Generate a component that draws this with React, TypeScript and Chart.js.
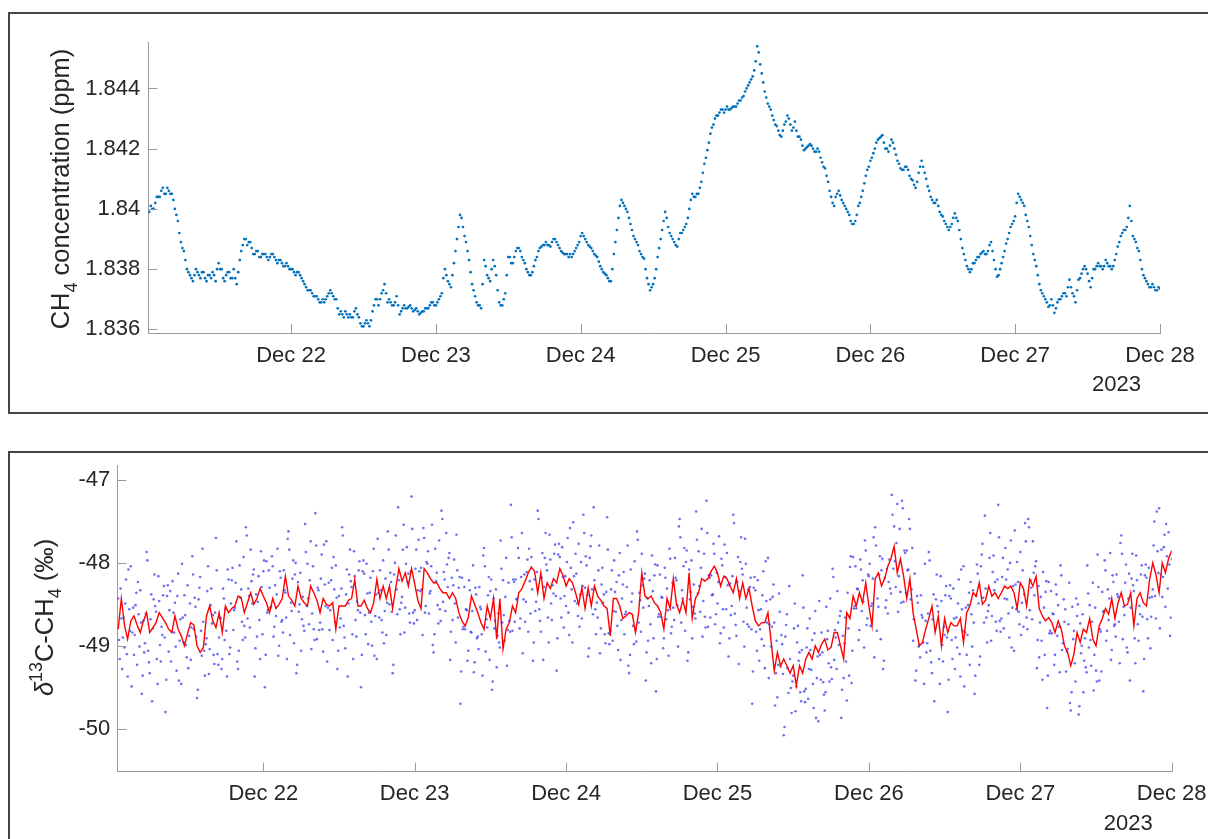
import React, { useEffect, useRef } from 'react';
import { Chart, registerables } from 'chart.js';

Chart.register(...registerables);

const FONT = '"Liberation Sans", Arial, Helvetica, sans-serif';
const TEXT = '#262626';
const AXIS = '#9a9a9a';

// x axis: hours since Dec 21 00:00 (2023)
const dayTickHours = [24, 48, 72, 96, 120, 144, 168];
const dayTickLabels = ['Dec 22', 'Dec 23', 'Dec 24', 'Dec 25', 'Dec 26', 'Dec 27', 'Dec 28'];
const yearLabel = '2023';

const ch4Ticks = [1.836, 1.838, 1.84, 1.842, 1.844];
const ch4TickLabels = ['1.836', '1.838', '1.84', '1.842', '1.844'];
const d13Ticks = [-50, -49, -48, -47];
const d13TickLabels = ['-50', '-49', '-48', '-47'];

// CH4 concentration (ppm), every 0.5 h starting at hour 0.5
const ch4StartHour = 0.5;
const ch4StepHour = 0.5;
const ch4Values = [
  1.8399, 1.8400, 1.8402, 1.8404, 1.8406, 1.8405, 1.8407, 1.8405,
  1.8403, 1.8398, 1.8392, 1.8387, 1.8383, 1.8379, 1.8377, 1.8378,
  1.8379, 1.8377, 1.8379, 1.8376, 1.8378, 1.8379, 1.8376, 1.8382,
  1.8380, 1.8376, 1.8379, 1.8377, 1.8380, 1.8375, 1.8383, 1.8388,
  1.8390, 1.8389, 1.8387, 1.8385, 1.8386, 1.8384, 1.8385, 1.8384,
  1.8384, 1.8385, 1.8383, 1.8383, 1.8382, 1.8381, 1.8381, 1.8380,
  1.8379, 1.8379, 1.8378, 1.8376, 1.8374, 1.8373, 1.8372, 1.8371,
  1.8370, 1.8369, 1.8369, 1.8371, 1.8373, 1.8371, 1.8370, 1.8365,
  1.8365, 1.8366, 1.8364, 1.8364, 1.8366, 1.8365, 1.8362, 1.8361,
  1.8363, 1.8361, 1.8366, 1.8370, 1.8368, 1.8372, 1.8375, 1.8369,
  1.8369, 1.8368, 1.8371, 1.8365, 1.8367, 1.8367, 1.83675, 1.8367,
  1.83665, 1.8366, 1.83655, 1.8366, 1.8367, 1.8368, 1.8369, 1.8368,
  1.8370, 1.8372, 1.8380, 1.8376, 1.8374, 1.8382, 1.8390, 1.8398,
  1.8394, 1.8389, 1.8383, 1.8375, 1.8371, 1.8368, 1.8367, 1.8383,
  1.8378, 1.8376, 1.8383, 1.8378, 1.8369, 1.8368, 1.8372, 1.8384,
  1.8382, 1.8384, 1.8387, 1.8386, 1.8383, 1.8380, 1.8378, 1.8379,
  1.8383, 1.8386, 1.83875, 1.8388, 1.8388, 1.83875, 1.8390, 1.8389,
  1.8387, 1.83855, 1.8385, 1.8384, 1.8384, 1.8386, 1.8388, 1.8391,
  1.8391, 1.8389, 1.83875, 1.8386, 1.83845, 1.83825, 1.8380, 1.83785,
  1.8377, 1.8376, 1.8385, 1.8393, 1.8401, 1.8402, 1.8400, 1.8397,
  1.8393, 1.8390, 1.8388, 1.8385, 1.83835, 1.8377, 1.8373, 1.8375,
  1.8380, 1.8387, 1.8393, 1.8399, 1.8394, 1.8391, 1.8389, 1.83875,
  1.8392, 1.8393, 1.8395, 1.8400, 1.8405, 1.8404, 1.8405, 1.8409,
  1.8415, 1.84195, 1.8425, 1.8428, 1.8431, 1.8432, 1.8433, 1.8433,
  1.8433, 1.84335, 1.8434, 1.8435, 1.8436, 1.84375, 1.8440, 1.8442,
  1.8444, 1.8449, 1.8452, 1.8445, 1.8439, 1.8435, 1.8433, 1.84295,
  1.84275, 1.84245, 1.8426, 1.8429, 1.8430, 1.8426, 1.8429, 1.8424,
  1.8423, 1.84195, 1.84205, 1.84215, 1.8420, 1.8419, 1.8419, 1.84155,
  1.84135, 1.8409, 1.8404, 1.8401, 1.8405, 1.84045, 1.8402, 1.8400,
  1.8398, 1.8395, 1.8396, 1.8401, 1.8404, 1.84085, 1.8413, 1.8416,
  1.84185, 1.8422, 1.84235, 1.84245, 1.8420, 1.8419, 1.8423, 1.8420,
  1.8416, 1.84135, 1.8413, 1.8414, 1.8411, 1.84095, 1.8407, 1.8412,
  1.8416, 1.8412, 1.84075, 1.8404, 1.8402, 1.8403, 1.8399, 1.83975,
  1.8395, 1.8393, 1.8395, 1.83985, 1.8396, 1.8390, 1.8385, 1.8381,
  1.8379, 1.8382, 1.8383, 1.8384, 1.83855, 1.8385, 1.8386, 1.8389,
  1.8383, 1.83775, 1.8380, 1.8384, 1.83885, 1.8392, 1.8395, 1.83975,
  1.8405, 1.8403, 1.8401, 1.8396, 1.8391, 1.8385, 1.8381, 1.8375,
  1.8372, 1.8370, 1.83675, 1.8370, 1.83655, 1.8369, 1.8370, 1.8372,
  1.8371, 1.83765, 1.8372, 1.8369, 1.83765, 1.83785, 1.8381, 1.83785,
  1.8374, 1.8380, 1.8381, 1.8381, 1.8380, 1.8383, 1.8381, 1.8380,
  1.8383, 1.83875, 1.8391, 1.8393, 1.8394, 1.8401, 1.8391, 1.8389,
  1.8386, 1.8380, 1.8377, 1.8375, 1.8374, 1.8374, 1.8373, 1.83735,
];

// CH4 concentration (ppm), second set of readings, every 0.5 h starting at hour 0.75
const ch4BStartHour = 0.75;
const ch4BStepHour = 0.5;
const ch4BValues = [
  1.8401, 1.8400, 1.8404, 1.8404, 1.8407, 1.8405, 1.8406, 1.8405,
  1.8400, 1.8396, 1.8389, 1.8386, 1.8380, 1.8378, 1.8376, 1.8380,
  1.8378, 1.8379, 1.8377, 1.8378, 1.8377, 1.8378, 1.8380, 1.8380,
  1.8377, 1.8378, 1.8379, 1.8377, 1.8377, 1.8379, 1.8386, 1.8390,
  1.8388, 1.8389, 1.8385, 1.8386, 1.8384, 1.8385, 1.8385, 1.8383,
  1.8385, 1.8384, 1.8382, 1.8383, 1.8381, 1.8382, 1.8380, 1.8380,
  1.8378, 1.8379, 1.8377, 1.8375, 1.8373, 1.8373, 1.8371, 1.8371,
  1.8369, 1.8370, 1.8370, 1.8372, 1.8372, 1.8370, 1.8367, 1.8366,
  1.8364, 1.8365, 1.8365, 1.8364, 1.8367, 1.8364, 1.8361, 1.8362,
  1.8362, 1.8363, 1.8368, 1.8370, 1.8370, 1.8373, 1.8372, 1.8370,
  1.8368, 1.8369, 1.8368, 1.8366, 1.8368, 1.8367, 1.8368, 1.8366,
  1.8367, 1.8365, 1.8366, 1.8367, 1.8367, 1.8369, 1.8368, 1.8369,
  1.8371, 1.8377, 1.8378, 1.8375, 1.8378, 1.8386, 1.8394, 1.8397,
  1.8391, 1.8386, 1.8379, 1.8373, 1.8369, 1.8368, 1.8375, 1.8381,
  1.8377, 1.8380, 1.8381, 1.8373, 1.8368, 1.8370, 1.8378, 1.8384,
  1.8382, 1.8386, 1.8387, 1.8384, 1.8382, 1.8379, 1.8378, 1.8381,
  1.8384, 1.8387, 1.8388, 1.8389, 1.8388, 1.8389, 1.8390, 1.8388,
  1.8386, 1.8385, 1.8385, 1.8385, 1.8385, 1.8387, 1.8389, 1.8392,
  1.8390, 1.8388, 1.8387, 1.8385, 1.8384, 1.8381, 1.8379, 1.8378,
  1.8376, 1.8380, 1.8389, 1.8397, 1.8403, 1.8401, 1.8399, 1.8395,
  1.8391, 1.8389, 1.8386, 1.8384, 1.8380, 1.8375, 1.8374, 1.8377,
  1.8384, 1.8390, 1.8396, 1.8397, 1.8392, 1.8390, 1.8388, 1.8390,
  1.8392, 1.8394, 1.8397, 1.8403, 1.8404, 1.8405, 1.8407, 1.8412,
  1.8417, 1.8422, 1.8427, 1.8430, 1.8431, 1.8433, 1.8432, 1.8434,
  1.8433, 1.8434, 1.8434, 1.8436, 1.8437, 1.8439, 1.8441, 1.8443,
  1.8446, 1.8454, 1.8448, 1.8442, 1.8437, 1.8434, 1.8431, 1.8428,
  1.8426, 1.8424, 1.8428, 1.8431, 1.8428, 1.8427, 1.8426, 1.8424,
  1.8421, 1.8420, 1.8421, 1.8421, 1.8419, 1.8420, 1.8417, 1.8414,
  1.8411, 1.8406, 1.8402, 1.8404, 1.8406, 1.8403, 1.8401, 1.8399,
  1.8396, 1.8395, 1.8398, 1.8402, 1.8406, 1.8411, 1.8414, 1.8417,
  1.8420, 1.8423, 1.8424, 1.8422, 1.8420, 1.8421, 1.8422, 1.8418,
  1.8415, 1.8413, 1.8414, 1.8413, 1.8410, 1.8408, 1.8409, 1.8414,
  1.8414, 1.8410, 1.8406, 1.8403, 1.8402, 1.8401, 1.8398, 1.8396,
  1.8394, 1.8394, 1.8397, 1.8397, 1.8393, 1.8387, 1.8383, 1.8380,
  1.8380, 1.8382, 1.8384, 1.8385, 1.8386, 1.8385, 1.8388, 1.8386,
  1.8380, 1.8378, 1.8382, 1.8386, 1.8390, 1.8394, 1.8396, 1.8402,
  1.8404, 1.8402, 1.8398, 1.8394, 1.8388, 1.8383, 1.8378, 1.8373,
  1.8371, 1.8369, 1.8368, 1.8368, 1.8367, 1.8370, 1.8371, 1.8372,
  1.8374, 1.8374, 1.8371, 1.8373, 1.8377, 1.8380, 1.8380, 1.8376,
  1.8377, 1.8380, 1.8382, 1.8381, 1.8381, 1.8382, 1.8381, 1.8381,
  1.8385, 1.8389, 1.8392, 1.8393, 1.8397, 1.8396, 1.8390, 1.8387,
  1.8383, 1.8378, 1.8376, 1.8374, 1.8375, 1.8373, 1.8374,
];

// delta13C-CH4 (per mil) raw measurements, every 0.25 h starting at hour 1
const d13RawStartHour = 1;
const d13RawStepHour = 0.25;
const d13RawValues = [
  -48.43, -49.16, -48.67, -48.90, -49.02, -48.20, -49.37, -48.56,
  -48.04, -48.84, -49.11, -48.51, -49.23, -48.62, -48.33, -49.58,
  -48.70, -48.97, -47.87, -49.06, -49.33, -48.38, -48.79, -48.14,
  -48.59, -49.46, -48.46, -49.19, -48.87, -48.28, -49.80, -48.40,
  -49.07, -48.34, -48.83, -48.60, -48.48, -49.30, -48.13, -48.94,
  -49.46, -48.66, -48.39, -48.99, -48.27, -48.88, -49.17, -47.92,
  -48.80, -48.53, -49.63, -48.44, -48.17, -49.12, -48.71, -49.36,
  -48.91, -48.04, -49.04, -48.31, -48.63, -49.22, -47.70, -49.10,
  -48.90, -48.67, -49.16, -48.43, -48.56, -49.37, -48.20, -49.02,
  -48.21, -48.81, -48.54, -47.74, -49.28, -48.03, -48.32, -48.93,
  -48.76, -47.57, -48.67, -48.40, -47.84, -48.49, -48.08, -49.03,
  -48.89, -48.16, -49.16, -48.29, -48.10, -49.50, -47.98, -48.57,
  -48.30, -48.53, -48.04, -48.77, -48.64, -47.83, -49.00, -48.18,
  -48.69, -48.09, -48.36, -49.16, -47.62, -48.87, -48.58, -47.97,
  -48.14, -49.33, -48.23, -48.50, -49.06, -48.41, -48.82, -47.87,
  -48.01, -48.74, -47.74, -48.61, -48.80, -47.40, -48.92, -48.33,
  -48.72, -47.90, -49.07, -48.26, -47.74, -48.54, -48.81, -48.21,
  -48.93, -48.32, -48.03, -49.28, -48.40, -48.67, -47.57, -48.76,
  -49.03, -48.08, -48.49, -47.84, -48.29, -49.16, -48.16, -48.89,
  -48.57, -47.98, -49.50, -48.10, -48.13, -48.86, -48.37, -48.60,
  -48.18, -49.00, -47.83, -48.64, -49.16, -48.36, -48.09, -48.69,
  -47.97, -48.58, -48.87, -47.62, -48.50, -48.23, -49.33, -48.14,
  -47.67, -48.62, -48.21, -48.86, -48.41, -47.54, -48.54, -47.81,
  -48.13, -48.72, -47.20, -48.60, -48.57, -47.84, -48.33, -48.10,
  -48.06, -48.87, -47.70, -48.52, -48.01, -48.61, -48.34, -47.54,
  -49.08, -47.83, -48.12, -48.73, -48.56, -47.37, -48.47, -48.20,
  -47.64, -48.29, -47.88, -48.83, -48.69, -47.96, -48.96, -48.09,
  -48.30, -49.70, -48.18, -48.77, -48.80, -48.57, -49.06, -48.33,
  -48.84, -48.03, -49.20, -48.38, -48.89, -48.29, -48.56, -49.36,
  -47.82, -49.07, -48.78, -48.17, -48.34, -49.53, -48.43, -48.70,
  -49.26, -48.61, -49.02, -48.07, -48.21, -48.94, -47.94, -48.81,
  -48.70, -47.30, -48.82, -48.23, -48.20, -48.43, -47.94, -48.67,
  -47.64, -48.44, -48.71, -48.11, -48.83, -48.22, -47.93, -49.18,
  -48.20, -48.47, -47.37, -48.56, -48.83, -47.88, -48.29, -47.64,
  -48.09, -48.96, -47.96, -48.69, -48.37, -47.78, -49.30, -47.90,
  -47.93, -48.66, -48.17, -48.40, -48.52, -47.70, -48.87, -48.06,
  -48.96, -48.16, -47.89, -48.49, -47.77, -48.38, -48.67, -47.42,
  -48.30, -48.03, -49.13, -47.94, -47.67, -48.62, -48.21, -48.86,
  -48.66, -47.79, -48.79, -48.06, -48.38, -48.97, -47.45, -48.85,
  -48.82, -48.09, -48.58, -48.35, -48.23, -49.05, -47.88, -48.69,
  -48.26, -48.86, -48.59, -47.79, -49.33, -48.08, -48.37, -48.98,
  -48.81, -47.62, -48.72, -48.45, -47.89, -48.54, -48.13, -49.08,
  -48.94, -48.21, -49.21, -48.34, -48.15, -49.55, -48.03, -48.62,
  -48.65, -48.42, -48.91, -48.18, -48.31, -49.12, -47.95, -48.77,
  -48.54, -47.94, -48.21, -49.01, -47.47, -48.72, -48.43, -47.82,
  -47.99, -49.18, -48.08, -48.35, -48.91, -48.26, -48.67, -47.72,
  -47.86, -48.59, -47.59, -48.46, -48.65, -47.25, -48.77, -48.18,
  -48.15, -48.38, -47.89, -48.62, -48.49, -47.68, -48.85, -48.03,
  -48.78, -48.17, -47.88, -49.13, -48.25, -48.52, -47.42, -48.61,
  -48.88, -47.93, -48.34, -47.69, -48.14, -49.01, -48.01, -48.74,
  -48.77, -48.18, -49.70, -48.30, -48.33, -49.06, -48.57, -48.80,
  -48.92, -48.10, -49.27, -48.46, -47.94, -48.74, -49.01, -48.41,
  -48.72, -49.33, -49.62, -48.37, -49.25, -48.98, -50.08, -48.89,
  -48.62, -49.57, -49.16, -49.81, -49.36, -48.49, -49.49, -48.76,
  -49.08, -49.67, -48.15, -49.55, -49.52, -48.79, -49.28, -49.05,
  -48.93, -49.75, -48.58, -49.39, -49.91, -49.11, -48.84, -49.44,
  -49.78, -48.53, -48.82, -49.43, -49.26, -48.07, -49.17, -48.90,
  -48.34, -48.99, -48.58, -49.53, -49.39, -48.66, -49.66, -48.79,
  -48.05, -49.45, -47.93, -48.52, -48.55, -48.32, -48.81, -48.08,
  -48.21, -49.02, -47.85, -48.67, -48.16, -48.76, -48.49, -47.69,
  -47.57, -48.82, -48.53, -47.92, -48.09, -49.28, -48.18, -48.45,
  -48.61, -47.96, -48.37, -47.42, -47.56, -48.29, -47.29, -48.16,
  -48.35, -47.25, -48.47, -47.88, -47.85, -48.08, -47.59, -48.32,
  -48.94, -48.13, -49.30, -48.48, -48.99, -48.39, -48.66, -49.46,
  -48.70, -48.97, -47.87, -49.06, -49.33, -48.38, -48.79, -48.14,
  -48.59, -49.46, -48.46, -49.19, -48.87, -48.28, -49.80, -48.40,
  -48.43, -49.16, -48.67, -48.90, -49.02, -48.20, -49.37, -48.56,
  -48.04, -48.84, -49.11, -48.51, -49.23, -48.62, -48.33, -49.58,
  -48.40, -48.13, -49.23, -48.04, -47.77, -48.72, -48.31, -48.96,
  -48.51, -47.64, -48.64, -47.91, -48.23, -48.82, -47.30, -48.70,
  -48.67, -47.94, -48.43, -48.20, -48.08, -48.90, -47.73, -48.54,
  -49.06, -48.26, -47.99, -48.59, -47.87, -48.48, -48.77, -47.52,
  -48.66, -47.47, -48.57, -48.30, -47.74, -48.39, -47.98, -48.93,
  -49.14, -48.41, -49.41, -48.54, -48.35, -49.75, -48.23, -48.82,
  -48.85, -48.62, -49.11, -48.38, -48.51, -49.32, -48.15, -48.97,
  -48.71, -49.31, -49.04, -48.24, -49.78, -48.53, -48.82, -49.43,
  -48.64, -49.83, -48.73, -49.00, -49.56, -48.91, -49.32, -48.37,
  -48.51, -49.24, -48.24, -49.11, -49.30, -47.90, -49.42, -48.83,
  -48.35, -48.58, -48.09, -48.82, -48.69, -47.88, -49.05, -48.23,
  -48.74, -48.14, -48.41, -49.21, -47.67, -48.92, -48.63, -48.02,
  -49.08, -48.13, -48.54, -47.89, -48.34, -49.21, -48.21, -48.94,
  -48.62, -48.03, -49.55, -48.15, -48.18, -48.91, -48.42, -48.65,
  -48.32, -47.50, -48.67, -47.86, -47.34, -48.14, -48.41, -47.81,
  -48.53, -47.92, -47.63, -48.88, -47.95,
];

// delta13C-CH4 (per mil) raw measurements, second analyser cycle, every 0.25 h from hour 1.125
const d13RawBStartHour = 1.125;
const d13RawBStepHour = 0.25;
const d13RawBValues = [
  -48.93, -48.31, -49.28, -48.66, -48.49, -49.10, -48.08, -48.82,
  -49.49, -48.54, -48.87, -48.36, -48.23, -49.01, -48.72, -49.36,
  -49.08, -48.61, -47.97, -49.20, -48.68, -49.67, -48.44, -48.52,
  -49.16, -48.16, -48.99, -48.77, -48.39, -48.90, -49.41, -48.27,
  -48.57, -49.19, -48.22, -48.84, -49.01, -48.40, -49.42, -48.68,
  -48.01, -48.96, -48.63, -49.14, -49.27, -48.49, -48.78, -48.14,
  -48.42, -48.89, -49.53, -48.30, -48.82, -47.83, -49.06, -48.98,
  -48.34, -49.34, -48.51, -48.73, -49.11, -48.60, -48.09, -49.23,
  -48.66, -49.28, -48.31, -48.93, -48.82, -48.08, -49.10, -48.49,
  -48.06, -48.57, -48.24, -49.19, -49.06, -48.42, -48.71, -47.93,
  -48.90, -47.67, -48.31, -48.78, -48.22, -48.14, -49.37, -48.38,
  -48.47, -48.69, -47.86, -48.86, -47.97, -49.11, -48.60, -48.09,
  -48.54, -47.92, -48.89, -48.27, -48.38, -49.12, -48.10, -48.71,
  -48.84, -48.33, -48.66, -47.71, -47.84, -48.48, -48.19, -48.97,
  -48.00, -49.23, -48.59, -48.12, -48.68, -48.76, -47.53, -48.52,
  -48.43, -48.21, -49.04, -48.04, -48.93, -47.79, -48.30, -48.81,
  -48.19, -48.80, -47.78, -48.52, -49.19, -48.24, -48.57, -48.06,
  -47.93, -48.71, -48.42, -49.06, -48.78, -48.31, -47.67, -48.90,
  -48.38, -49.37, -48.14, -48.22, -48.86, -47.86, -48.69, -48.47,
  -48.09, -48.60, -49.11, -47.97, -48.63, -48.01, -48.98, -48.36,
  -48.71, -48.10, -49.12, -48.38, -47.71, -48.66, -48.33, -48.84,
  -48.97, -48.19, -48.48, -47.84, -48.12, -48.59, -49.23, -48.00,
  -48.32, -47.33, -48.56, -48.48, -47.84, -48.84, -48.01, -48.23,
  -48.61, -48.10, -47.59, -48.73, -48.07, -48.69, -47.72, -48.34,
  -48.32, -47.58, -48.60, -47.99, -47.86, -48.37, -48.04, -48.99,
  -48.86, -48.22, -48.51, -47.73, -48.70, -47.47, -48.11, -48.58,
  -48.02, -47.94, -49.17, -48.18, -48.27, -48.49, -47.66, -48.66,
  -48.17, -49.31, -48.80, -48.29, -48.56, -49.18, -48.21, -48.83,
  -48.58, -49.32, -48.30, -48.91, -49.04, -48.53, -48.86, -47.91,
  -48.04, -48.68, -48.39, -49.17, -48.20, -49.43, -48.79, -48.32,
  -48.88, -48.96, -47.73, -48.72, -48.63, -48.41, -49.24, -48.24,
  -48.83, -47.69, -48.20, -48.71, -48.44, -47.82, -48.79, -48.17,
  -49.09, -48.14, -48.47, -47.96, -47.83, -48.61, -48.32, -48.96,
  -48.58, -48.11, -47.47, -48.70, -48.18, -49.17, -47.94, -48.02,
  -48.66, -47.66, -48.49, -48.27, -47.89, -48.40, -48.91, -47.77,
  -48.43, -47.81, -48.78, -48.16, -47.99, -48.60, -47.58, -48.32,
  -47.51, -48.46, -48.13, -48.64, -48.77, -47.99, -48.28, -47.64,
  -47.92, -48.39, -49.03, -47.80, -48.32, -47.33, -48.56, -48.48,
  -48.09, -49.09, -48.26, -48.48, -48.86, -48.35, -47.84, -48.98,
  -48.32, -48.94, -47.97, -48.59, -48.76, -48.15, -49.17, -48.43,
  -48.11, -48.62, -48.29, -49.24, -49.11, -48.47, -48.76, -47.98,
  -48.95, -47.72, -48.36, -48.83, -48.27, -48.19, -49.42, -48.43,
  -48.52, -48.74, -47.91, -48.91, -48.02, -49.16, -48.65, -48.14,
  -48.41, -49.03, -48.06, -48.68, -48.57, -47.83, -48.85, -48.24,
  -48.69, -48.18, -48.51, -47.56, -47.69, -48.33, -48.04, -48.82,
  -47.85, -49.08, -48.44, -47.97, -48.53, -48.61, -47.38, -48.37,
  -48.28, -48.06, -48.89, -47.89, -48.78, -47.64, -48.15, -48.66,
  -48.39, -47.77, -48.74, -48.12, -48.23, -48.97, -47.95, -48.56,
  -47.78, -48.56, -48.27, -48.91, -48.63, -48.16, -47.52, -48.75,
  -48.23, -49.22, -47.99, -48.07, -48.71, -47.71, -48.54, -48.32,
  -48.29, -48.80, -49.31, -48.17, -48.83, -48.21, -49.18, -48.56,
  -48.39, -49.00, -47.98, -48.72, -49.39, -48.44, -48.77, -48.26,
  -49.72, -48.94, -49.23, -48.59, -48.87, -49.34, -49.98, -48.75,
  -49.27, -48.28, -49.51, -49.43, -48.79, -49.79, -48.96, -49.18,
  -49.56, -49.05, -48.54, -49.68, -49.02, -49.64, -48.67, -49.29,
  -49.46, -48.85, -49.87, -49.13, -48.46, -49.41, -49.08, -49.59,
  -49.56, -48.92, -49.21, -48.43, -49.40, -48.17, -48.81, -49.28,
  -48.72, -48.64, -49.87, -48.88, -48.97, -49.19, -48.36, -49.36,
  -47.92, -49.06, -48.55, -48.04, -48.31, -48.93, -47.96, -48.58,
  -48.47, -47.73, -48.75, -48.14, -48.01, -48.52, -48.19, -49.14,
  -47.79, -48.43, -48.14, -48.92, -47.95, -49.18, -48.54, -48.07,
  -48.23, -48.31, -47.18, -48.07, -47.98, -47.76, -48.59, -47.59,
  -48.48, -47.34, -47.85, -48.36, -48.09, -47.47, -48.44, -47.82,
  -48.68, -49.42, -48.40, -49.01, -49.14, -48.63, -48.96, -48.01,
  -49.08, -48.61, -47.97, -49.20, -48.68, -49.67, -48.44, -48.52,
  -49.16, -48.16, -48.99, -48.77, -48.39, -48.90, -49.41, -48.27,
  -48.93, -48.31, -49.28, -48.66, -48.49, -49.10, -48.08, -48.82,
  -49.49, -48.54, -48.87, -48.36, -48.23, -49.01, -48.72, -49.36,
  -48.02, -48.49, -49.13, -47.90, -48.42, -47.43, -48.66, -48.58,
  -47.94, -48.94, -48.11, -48.33, -48.71, -48.20, -47.69, -48.83,
  -48.17, -48.79, -47.82, -48.44, -48.61, -48.00, -49.02, -48.28,
  -47.61, -48.56, -48.23, -48.74, -48.87, -48.09, -48.38, -47.74,
  -48.80, -47.57, -48.21, -48.68, -48.12, -48.04, -49.27, -48.28,
  -48.72, -48.94, -48.11, -49.11, -48.22, -49.36, -48.85, -48.34,
  -48.61, -49.23, -48.26, -48.88, -48.77, -48.03, -49.05, -48.44,
  -48.56, -49.07, -48.74, -49.69, -49.56, -48.92, -49.21, -48.43,
  -48.50, -49.73, -49.09, -48.62, -49.18, -49.26, -48.03, -49.02,
  -48.93, -48.71, -49.54, -48.54, -49.43, -48.29, -48.80, -49.31,
  -48.59, -47.97, -48.94, -48.32, -48.43, -49.17, -48.15, -48.76,
  -48.89, -48.38, -48.71, -47.76, -47.89, -48.53, -48.24, -49.02,
  -48.43, -49.42, -48.19, -48.27, -48.91, -47.91, -48.74, -48.52,
  -48.14, -48.65, -49.16, -48.02, -48.68, -48.06, -49.03, -48.41,
  -47.79, -48.40, -47.38, -48.12, -48.79, -47.84, -48.17, -47.66,
  -47.53, -48.31, -48.02, -48.66,
];

// delta13C-CH4 (per mil) smoothed, every 0.5 h starting at hour 1
const d13SmoothStartHour = 1;
const d13SmoothStepHour = 0.5;
const d13SmoothValues = [
  -48.80, -48.43, -48.75, -48.92, -48.70, -48.64, -48.75, -48.84,
  -48.70, -48.60, -48.84, -48.78, -48.72, -48.60, -48.66, -48.72,
  -48.80, -48.84, -48.64, -48.80, -48.88, -49.00, -48.85, -48.72,
  -48.75, -49.00, -49.08, -49.02, -48.64, -48.52, -48.70, -48.78,
  -48.60, -48.84, -48.52, -48.60, -48.55, -48.52, -48.40, -48.42,
  -48.60, -48.48, -48.36, -48.50, -48.43, -48.31, -48.40, -48.48,
  -48.60, -48.43, -48.55, -48.50, -48.43, -48.16, -48.40, -48.45,
  -48.52, -48.28, -48.43, -48.48, -48.52, -48.28, -48.36, -48.45,
  -48.60, -48.43, -48.50, -48.52, -48.48, -48.80, -48.52, -48.52,
  -48.52, -48.45, -48.43, -48.20, -48.52, -48.52, -48.45, -48.55,
  -48.60, -48.48, -48.20, -48.43, -48.28, -48.43, -48.28, -48.55,
  -48.30, -48.07, -48.22, -48.12, -48.28, -48.07, -48.25, -48.45,
  -48.55, -48.07, -48.12, -48.19, -48.24, -48.24, -48.31, -48.36,
  -48.36, -48.43, -48.36, -48.43, -48.60, -48.70, -48.76, -48.66,
  -48.40, -48.50, -48.60, -48.72, -48.80, -48.52, -48.67, -48.43,
  -48.92, -48.43, -49.04, -48.80, -48.72, -48.52, -48.60, -48.36,
  -48.31, -48.22, -48.12, -48.05, -48.10, -48.36, -48.12, -48.43,
  -48.24, -48.31, -48.19, -48.24, -48.07, -48.15, -48.28, -48.19,
  -48.24, -48.36, -48.50, -48.30, -48.55, -48.30, -48.52, -48.28,
  -48.40, -48.45, -48.52, -48.55, -48.88, -48.43, -48.43, -48.52,
  -48.67, -48.64, -48.60, -48.62, -48.84, -48.60, -48.12, -48.40,
  -48.43, -48.40, -48.48, -48.52, -48.60, -48.80, -48.43, -48.55,
  -48.19, -48.50, -48.60, -48.45, -48.60, -48.12, -48.67, -48.43,
  -48.36, -48.19, -48.22, -48.19, -48.10, -48.04, -48.12, -48.28,
  -48.16, -48.19, -48.28, -48.36, -48.19, -48.43, -48.24, -48.43,
  -48.31, -48.52, -48.70, -48.76, -48.72, -48.72, -48.60, -48.95,
  -49.30, -49.08, -49.24, -49.16, -49.24, -49.33, -49.24, -49.48,
  -49.24, -49.33, -49.16, -49.08, -49.16, -49.00, -49.08, -48.98,
  -48.92, -49.05, -49.02, -48.84, -48.84, -49.00, -49.16, -48.60,
  -48.67, -48.40, -48.52, -48.36, -48.48, -48.24, -48.52, -48.76,
  -48.19, -48.12, -48.28, -48.19, -48.04, -47.95, -47.80, -48.12,
  -47.95, -48.16, -48.43, -48.19, -48.60, -48.80, -49.00, -48.96,
  -48.80, -48.67, -48.52, -48.84, -48.64, -49.00, -48.67, -48.84,
  -48.72, -48.76, -48.76, -48.67, -48.96, -48.60, -48.52, -48.36,
  -48.40, -48.24, -48.50, -48.45, -48.28, -48.40, -48.36, -48.43,
  -48.36, -48.28, -48.31, -48.28, -48.36, -48.55, -48.24, -48.31,
  -48.52, -48.20, -48.28, -48.16, -48.55, -48.64, -48.70, -48.66,
  -48.72, -48.84, -48.70, -48.80, -49.00, -49.08, -49.24, -49.10,
  -48.84, -48.96, -48.80, -48.84, -48.67, -48.92, -49.00, -48.76,
  -48.67, -48.55, -48.62, -48.43, -48.67, -48.48, -48.36, -48.52,
  -48.50, -48.36, -48.76, -48.43, -48.36, -48.48, -48.52, -48.20,
  -48.00, -48.14, -48.36, -48.00, -48.12, -47.95, -47.85,
];

type Part = { t: string; s?: number; dy?: number; italic?: boolean };

const ch4Title: Part[] = [
  { t: 'CH' },
  { t: '4', s: 0.7, dy: 0.32 },
  { t: ' concentration (ppm)' },
];
const d13Title: Part[] = [
  { t: 'δ', italic: true },
  { t: '13', s: 0.7, dy: -0.42 },
  { t: 'C-CH' },
  { t: '4', s: 0.7, dy: 0.32 },
  { t: ' (‰)' },
];

function drawRichVertical(ctx: CanvasRenderingContext2D, parts: Part[], baselineX: number, centerY: number, size: number) {
  ctx.save();
  ctx.translate(baselineX, centerY);
  ctx.rotate(-Math.PI / 2);
  ctx.textAlign = 'left';
  ctx.textBaseline = 'alphabetic';
  ctx.fillStyle = TEXT;
  const fonts = parts.map(p => `${p.italic ? 'italic ' : ''}${(p.s || 1) * size}px ${FONT}`);
  const widths = parts.map((p, i) => { ctx.font = fonts[i]; return ctx.measureText(p.t).width; });
  const total = widths.reduce((a, b) => a + b, 0);
  let u = -total / 2;
  parts.forEach((p, i) => {
    ctx.font = fonts[i];
    ctx.fillText(p.t, u, (p.dy || 0) * size);
    u += widths[i];
  });
  ctx.restore();
}

function decorPlugin(o: { title: Part[]; titleX: number; titleY: number; titleSize: number; yearDx: number; yearDy: number }) {
  return {
    id: 'decor',
    afterDraw(chart: any) {
      const ctx: CanvasRenderingContext2D = chart.ctx;
      const { left, bottom } = chart.chartArea;
      const xs = chart.scales.x;
      const ys = chart.scales.y;
      ctx.save();
      ctx.strokeStyle = AXIS;
      ctx.lineWidth = 1;
      ctx.beginPath();
      for (const t of xs.ticks) {
        const px = Math.round(xs.getPixelForValue(t.value)) + 0.5;
        ctx.moveTo(px, bottom);
        ctx.lineTo(px, bottom - 9);
      }
      for (const t of ys.ticks) {
        const py = Math.round(ys.getPixelForValue(t.value)) + 0.5;
        ctx.moveTo(left, py);
        ctx.lineTo(left + 9, py);
      }
      ctx.stroke();
      ctx.fillStyle = TEXT;
      ctx.font = `22px ${FONT}`;
      ctx.textAlign = 'center';
      ctx.textBaseline = 'middle';
      ctx.fillText(yearLabel, xs.getPixelForValue(xs.max) + o.yearDx, bottom + o.yearDy);
      ctx.restore();
      drawRichVertical(ctx, o.title, o.titleX, o.titleY, o.titleSize);
    },
  };
}

function xScale(min: number, height: number, pad: number) {
  return {
    type: 'linear',
    min,
    max: 168,
    grid: { display: false, drawTicks: false },
    border: { display: true, color: AXIS, width: 1 },
    ticks: {
      autoSkip: false,
      maxRotation: 0,
      padding: pad,
      color: TEXT,
      font: { family: FONT, size: 22 },
      callback: (v: number) => dayTickLabels[dayTickHours.indexOf(v)] ?? '',
    },
    afterBuildTicks: (s: any) => { s.ticks = dayTickHours.map(v => ({ value: v })); },
    afterFit: (s: any) => { s.height = height; s.paddingLeft = 0; s.paddingRight = 0; },
  };
}

function yScale(min: number, max: number, width: number, pad: number, ticks: number[], labels: string[]) {
  return {
    type: 'linear',
    min,
    max,
    grid: { display: false, drawTicks: false },
    border: { display: true, color: AXIS, width: 1 },
    ticks: {
      padding: pad,
      color: TEXT,
      font: { family: FONT, size: 22 },
      callback: (v: number) => {
        const i = ticks.findIndex(t => Math.abs(t - v) < 1e-9);
        return i >= 0 ? labels[i] : '';
      },
    },
    afterBuildTicks: (s: any) => { s.ticks = ticks.map(v => ({ value: v })); },
    afterFit: (s: any) => { s.width = width; s.paddingTop = 0; s.paddingBottom = 0; },
  };
}

const toPoints = (vals: number[], start: number, step: number) => vals.map((v, i) => ({ x: start + i * step, y: v }));

export default function App() {
  const topRef = useRef<HTMLCanvasElement>(null);
  const botRef = useRef<HTMLCanvasElement>(null);

  useEffect(() => {
    const ch4Points = [
      ...toPoints(ch4Values, ch4StartHour, ch4StepHour),
      ...toPoints(ch4BValues, ch4BStartHour, ch4BStepHour),
    ];
    const rawPoints = [
      ...toPoints(d13RawValues, d13RawStartHour, d13RawStepHour),
      ...toPoints(d13RawBValues, d13RawBStartHour, d13RawBStepHour),
    ];
    const smoothPoints = toPoints(d13SmoothValues, d13SmoothStartHour, d13SmoothStepHour);

    const top = new Chart(topRef.current!, {
      type: 'scatter',
      data: {
        datasets: [{
          data: ch4Points,
          pointRadius: 1.35,
          pointBorderWidth: 0,
          pointBackgroundColor: '#0072BD',
          showLine: false,
        } as any],
      },
      options: {
        animation: false,
        responsive: false,
        devicePixelRatio: 1,
        events: [],
        layout: { padding: { left: 0, top: 42.7, right: 48, bottom: 0 } },
        plugins: { legend: { display: false }, tooltip: { enabled: false } },
        scales: {
          x: xScale(0.35, 107, 10) as any,
          y: yScale(1.83588, 1.84552, 148.3, 8, ch4Ticks, ch4TickLabels) as any,
        },
      },
      plugins: [decorPlugin({ title: ch4Title, titleX: 68.5, titleY: 189, titleSize: 25.5, yearDx: -43.5, yearDy: 51.5 })],
    });

    const bot = new Chart(botRef.current!, {
      type: 'scatter',
      data: {
        datasets: [
          {
            type: 'line',
            data: smoothPoints,
            borderColor: '#ff0000',
            borderWidth: 1.4,
            pointRadius: 0,
            tension: 0,
            fill: false,
          } as any,
          {
            data: rawPoints,
            pointRadius: 1.3,
            pointBorderWidth: 0,
            pointBackgroundColor: 'rgba(50,50,240,0.7)',
            showLine: false,
          } as any,
        ],
      },
      options: {
        animation: false,
        responsive: false,
        devicePixelRatio: 1,
        events: [],
        layout: { padding: { left: 0, top: 25, right: 36.3, bottom: 0 } },
        plugins: { legend: { display: false }, tooltip: { enabled: false } },
        scales: {
          x: xScale(0.86, 67.3, 9) as any,
          y: yScale(-50.519, -46.819, 117.3, 7, d13Ticks, d13TickLabels) as any,
        },
      },
      plugins: [decorPlugin({ title: d13Title, titleX: 53, titleY: 177.5, titleSize: 25.5, yearDx: -43.5, yearDy: 52.5 })],
    });

    return () => { top.destroy(); bot.destroy(); };
  }, []);

  return (
    <div style={{ position: 'fixed', left: 0, top: 0, width: 1208, height: 839, overflow: 'hidden', background: '#fff' }}>
      <div style={{ position: 'absolute', left: 8, top: 12, width: 1230, height: 402, border: '2px solid #444', boxSizing: 'border-box' }} />
      <div style={{ position: 'absolute', left: 8, top: 451, width: 1230, height: 420, border: '2px solid #444', boxSizing: 'border-box' }} />
      <canvas ref={topRef} width={1208} height={440} style={{ position: 'absolute', left: 0, top: 0, width: 1208, height: 440 }} />
      <canvas ref={botRef} width={1208} height={399} style={{ position: 'absolute', left: 0, top: 440, width: 1208, height: 399 }} />
    </div>
  );
}
